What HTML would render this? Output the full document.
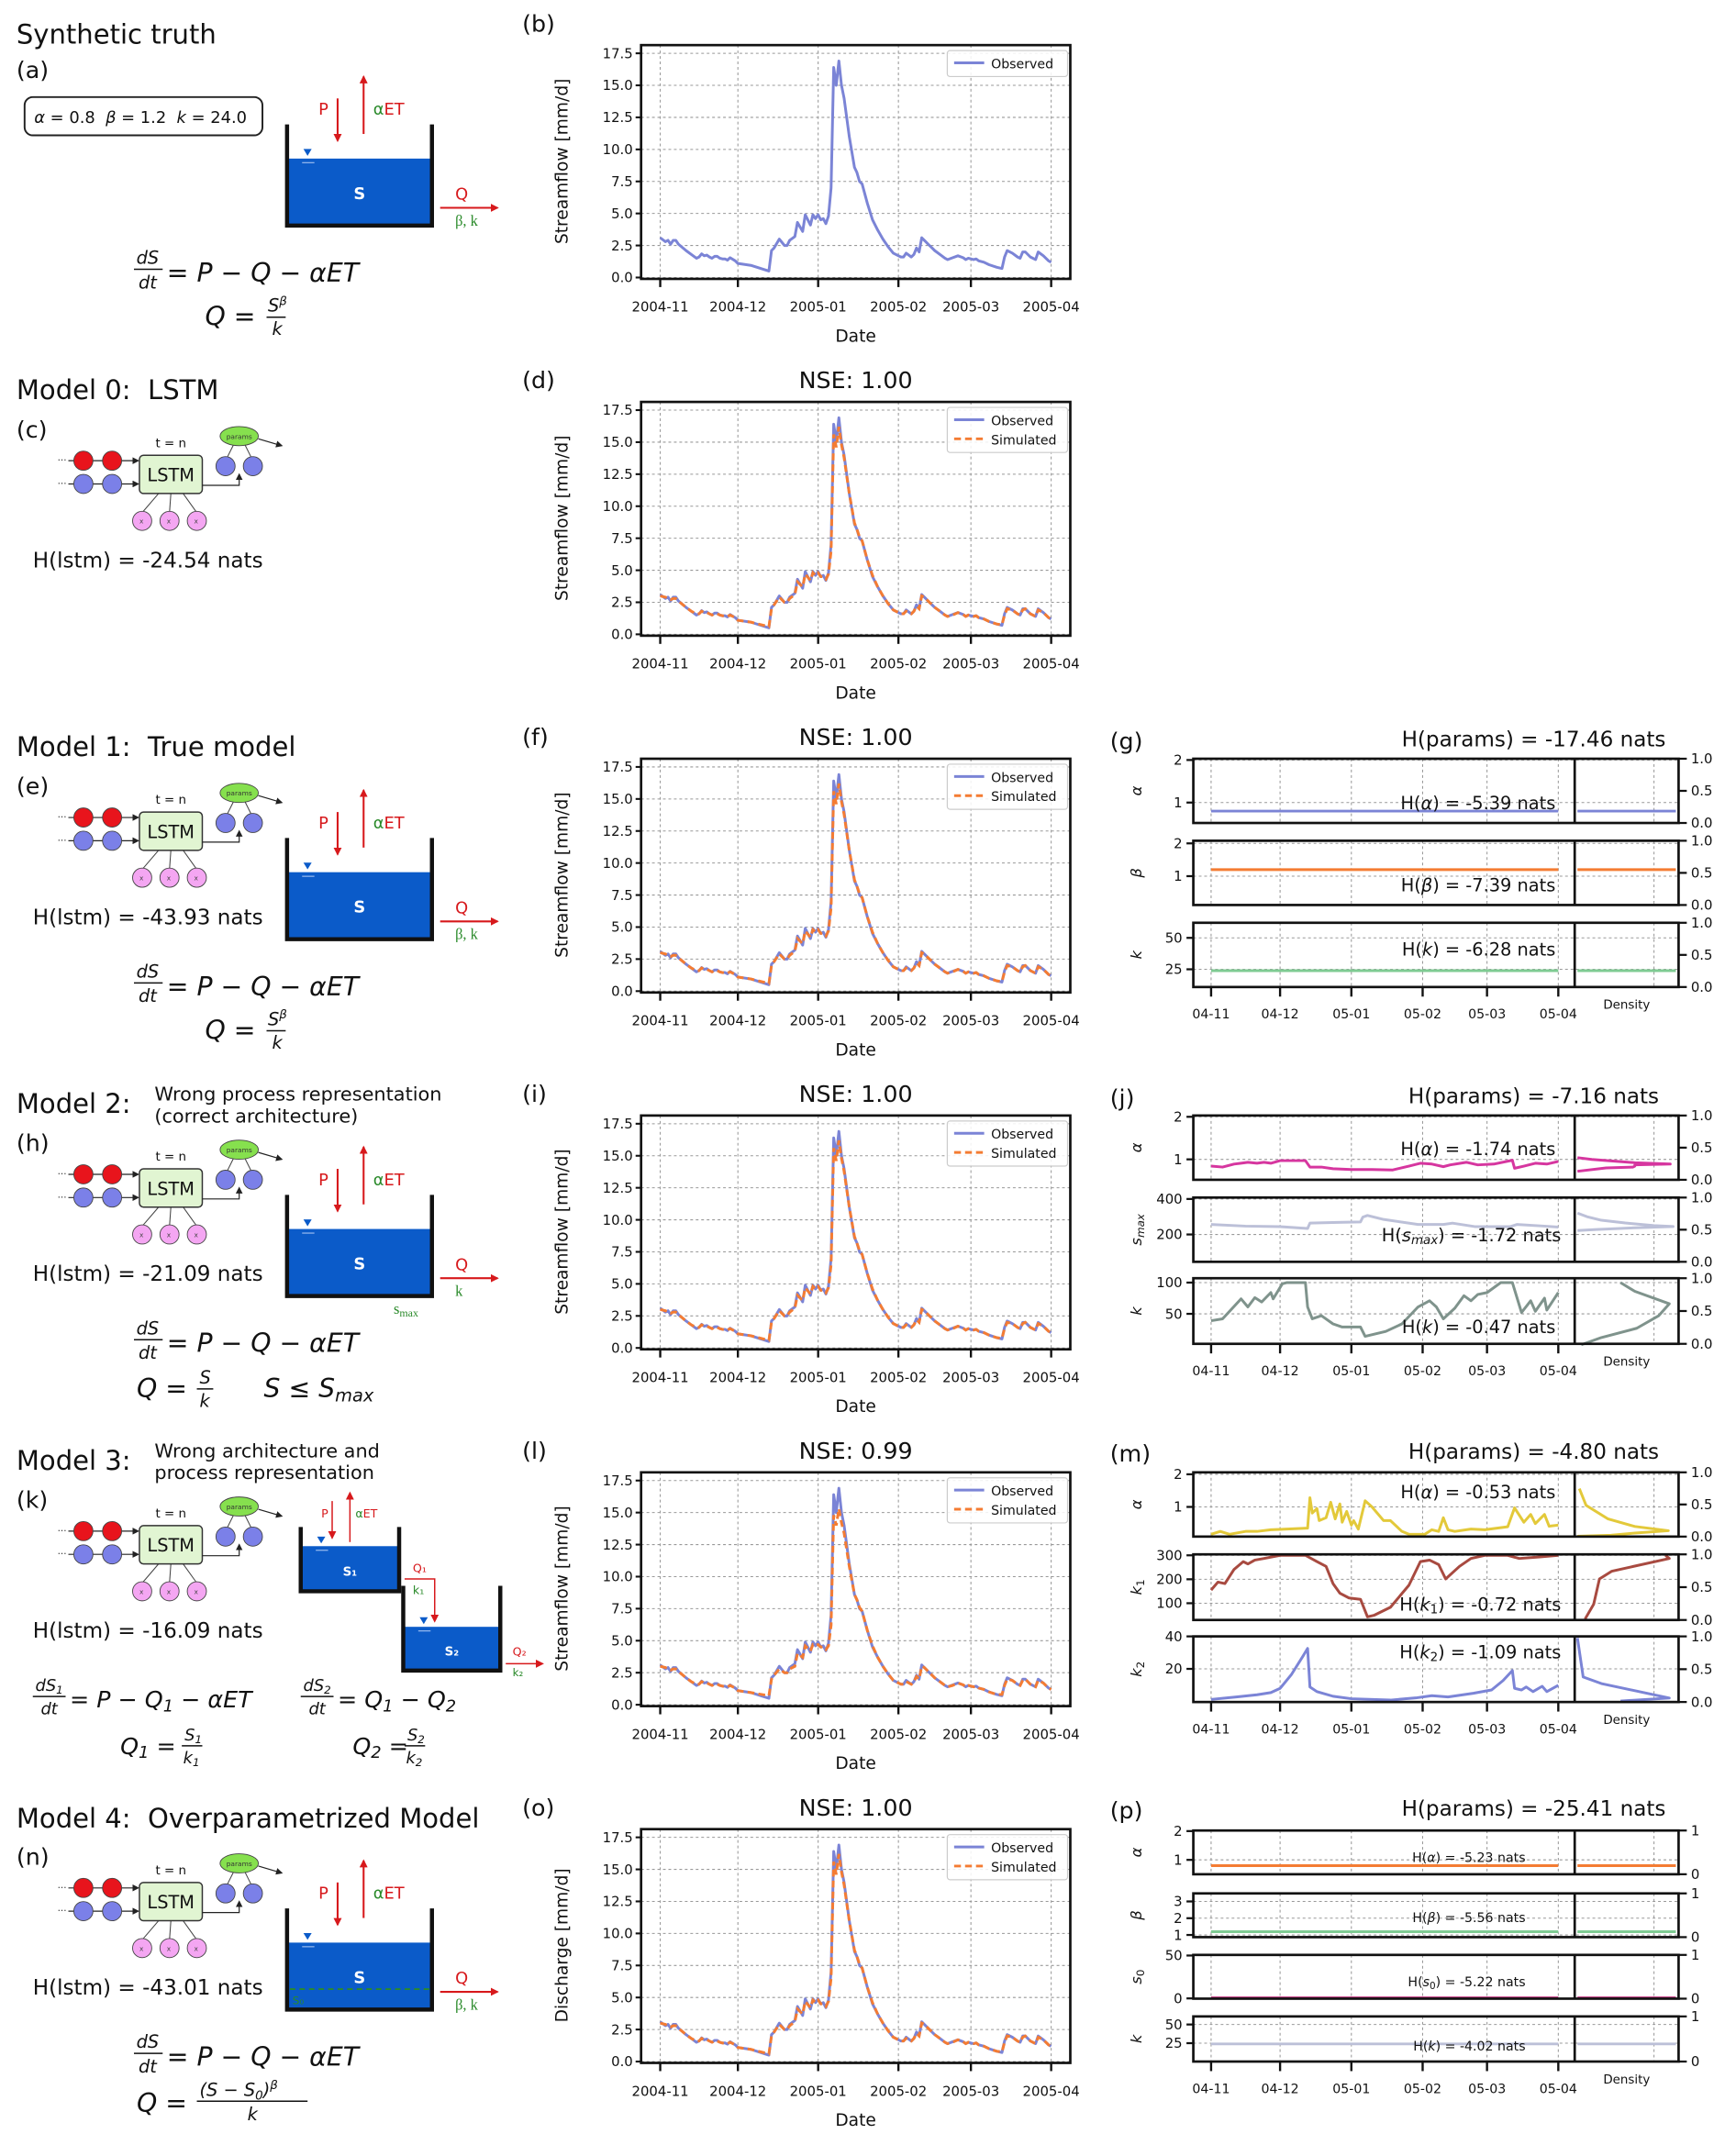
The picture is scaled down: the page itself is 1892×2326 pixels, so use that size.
<!DOCTYPE html>
<html><head><meta charset="utf-8"><style>
html,body{margin:0;padding:0;background:#fff;}
svg{display:block;font-family:"DejaVu Sans","Liberation Sans",sans-serif;}
.it{font-style:italic;}
</style></head><body>
<svg id="fig" xmlns="http://www.w3.org/2000/svg" width="1892" height="2326" viewBox="0 0 1270 1561" preserveAspectRatio="none">
<defs>
<marker id="ar" markerWidth="6" markerHeight="6" refX="5" refY="3" orient="auto" markerUnits="userSpaceOnUse"><path d="M0,0 L6,3 L0,6 z" fill="#d7191c"/></marker>
<marker id="ab" markerWidth="5" markerHeight="5" refX="4" refY="2.5" orient="auto" markerUnits="userSpaceOnUse"><path d="M0,0 L5,2.5 L0,5 z" fill="#222"/></marker>
</defs>

<g fill="#111">
<text x="12" y="32" font-size="19.5">Synthetic truth</text>
<text x="12" y="57" font-size="17">(a)</text>
<rect x="18" y="71" width="174" height="28" rx="6" fill="#fff" stroke="#222" stroke-width="1.3"/>
<text x="25" y="90" font-size="12"><tspan class="it">α</tspan> = 0.8&#160;&#160;<tspan class="it">β</tspan> = 1.2&#160;&#160;<tspan class="it">k</tspan> = 24.0</text>

<text x="12" y="292" font-size="19.5">Model 0:&#160;&#160;LSTM</text>
<text x="12" y="320" font-size="17">(c)</text>
<text x="24" y="415" font-size="15.5">H(lstm) = -24.54 nats</text>

<text x="12" y="553" font-size="19.5">Model 1:&#160;&#160;True model</text>
<text x="12" y="581" font-size="17">(e)</text>
<text x="24" y="676" font-size="15.5">H(lstm) = -43.93 nats</text>

<text x="12" y="814" font-size="19.5">Model 2:</text>
<text x="113" y="805" font-size="14">Wrong process representation</text>
<text x="113" y="821" font-size="14">(correct architecture)</text>
<text x="12" y="842" font-size="17">(h)</text>
<text x="24" y="937" font-size="15.5">H(lstm) = -21.09 nats</text>

<text x="12" y="1075" font-size="19.5">Model 3:</text>
<text x="113" y="1066" font-size="14">Wrong architecture and</text>
<text x="113" y="1082" font-size="14">process representation</text>
<text x="12" y="1103" font-size="17">(k)</text>
<text x="24" y="1198" font-size="15.5">H(lstm) = -16.09 nats</text>

<text x="12" y="1337" font-size="19.5">Model 4:&#160;&#160;Overparametrized Model</text>
<text x="12" y="1364" font-size="17">(n)</text>
<text x="24" y="1459" font-size="15.5">H(lstm) = -43.01 nats</text>
</g>

<g fill="#111">
<text x="108" y="193" font-size="13" text-anchor="middle" class="it">dS</text>
<line x1="98" y1="197" x2="119" y2="197" stroke="#111" stroke-width="1"/>
<text x="108" y="211" font-size="13" text-anchor="middle" class="it">dt</text>
<text x="122" y="206" font-size="19" class="it">= P − Q − αET</text>
<text x="150" y="238" font-size="19" class="it">Q =</text>
<text x="196" y="228" font-size="13" class="it">S<tspan font-size="9" dy="-5">β</tspan></text>
<line x1="195" y1="232" x2="209" y2="232" stroke="#111" stroke-width="1"/>
<text x="199" y="245" font-size="13" class="it">k</text>
</g>
<g fill="#111" transform="translate(0,522)">
<text x="108" y="193" font-size="13" text-anchor="middle" class="it">dS</text>
<line x1="98" y1="197" x2="119" y2="197" stroke="#111" stroke-width="1"/>
<text x="108" y="211" font-size="13" text-anchor="middle" class="it">dt</text>
<text x="122" y="206" font-size="19" class="it">= P − Q − αET</text>
<text x="150" y="238" font-size="19" class="it">Q =</text>
<text x="196" y="228" font-size="13" class="it">S<tspan font-size="9" dy="-5">β</tspan></text>
<line x1="195" y1="232" x2="209" y2="232" stroke="#111" stroke-width="1"/>
<text x="199" y="245" font-size="13" class="it">k</text>
</g>
<g fill="#111" transform="translate(0,783)">
<text x="108" y="193" font-size="13" text-anchor="middle" class="it">dS</text>
<line x1="98" y1="197" x2="119" y2="197" stroke="#111" stroke-width="1"/>
<text x="108" y="211" font-size="13" text-anchor="middle" class="it">dt</text>
<text x="122" y="206" font-size="19" class="it">= P − Q − αET</text>
<text x="100" y="239" font-size="19" class="it">Q =</text>
<text x="146" y="229" font-size="13" class="it">S</text>
<line x1="144" y1="233" x2="156" y2="233" stroke="#111" stroke-width="1"/>
<text x="146" y="246" font-size="13" class="it">k</text>
<text x="193" y="239" font-size="19" class="it">S ≤ S<tspan font-size="13" dy="3">max</tspan></text>
</g>
<g fill="#111">
<text x="36" y="1237" font-size="12" text-anchor="middle" class="it">dS<tspan font-size="8" dy="2">1</tspan></text>
<line x1="24" y1="1241" x2="48" y2="1241" stroke="#111" stroke-width="1"/>
<text x="36" y="1254" font-size="12" text-anchor="middle" class="it">dt</text>
<text x="51" y="1249" font-size="17" class="it">= P − Q<tspan font-size="12" dy="3">1</tspan><tspan dy="-3"> − αET</tspan></text>
<text x="88" y="1283" font-size="17" class="it">Q<tspan font-size="12" dy="3">1</tspan><tspan dy="-3"> =</tspan></text>
<text x="135" y="1273" font-size="12" class="it">S<tspan font-size="8" dy="2">1</tspan></text>
<line x1="133" y1="1277" x2="148" y2="1277" stroke="#111" stroke-width="1"/>
<text x="134" y="1290" font-size="12" class="it">k<tspan font-size="8" dy="2">1</tspan></text>
<text x="232" y="1237" font-size="12" text-anchor="middle" class="it">dS<tspan font-size="8" dy="2">2</tspan></text>
<line x1="220" y1="1241" x2="244" y2="1241" stroke="#111" stroke-width="1"/>
<text x="232" y="1254" font-size="12" text-anchor="middle" class="it">dt</text>
<text x="247" y="1249" font-size="17" class="it">= Q<tspan font-size="12" dy="3">1</tspan><tspan dy="-3"> − Q</tspan><tspan font-size="12" dy="3">2</tspan></text>
<text x="258" y="1283" font-size="17" class="it">Q<tspan font-size="12" dy="3">2</tspan><tspan dy="-3"> =</tspan></text>
<text x="298" y="1273" font-size="12" class="it">S<tspan font-size="8" dy="2">2</tspan></text>
<line x1="296" y1="1277" x2="311" y2="1277" stroke="#111" stroke-width="1"/>
<text x="297" y="1290" font-size="12" class="it">k<tspan font-size="8" dy="2">2</tspan></text>
</g>
<g fill="#111" transform="translate(0,1305)">
<text x="108" y="193" font-size="13" text-anchor="middle" class="it">dS</text>
<line x1="98" y1="197" x2="119" y2="197" stroke="#111" stroke-width="1"/>
<text x="108" y="211" font-size="13" text-anchor="middle" class="it">dt</text>
<text x="122" y="206" font-size="19" class="it">= P − Q − αET</text>
<text x="100" y="240" font-size="19" class="it">Q =</text>
<text x="146" y="228" font-size="13" class="it">(S − S<tspan font-size="9" dy="3">0</tspan><tspan dy="-3">)</tspan><tspan font-size="9" dy="-5">β</tspan></text>
<line x1="144" y1="232" x2="225" y2="232" stroke="#111" stroke-width="1"/>
<text x="181" y="246" font-size="13" class="it">k</text>
</g>

<g id="diagrams"></g>
<g id="charts"></g>
</svg>

<script>
// ---------- DATA ----------
const dayTicks = [0, 30, 61, 92, 120, 151];
const dateLabels = ["2004-11","2004-12","2005-01","2005-02","2005-03","2005-04"];
const shortLabels = ["04-11","04-12","05-01","05-02","05-03","05-04"];
const flowTicks = [0,2.5,5,7.5,10,12.5,15,17.5];
const flowTickLabels = ["0.0","2.5","5.0","7.5","10.0","12.5","15.0","17.5"];
const obsDays = [0,2,3,4,5,6,7,10,12,14, 15,16,17,18,19,20,21,22,23,24, 25,26,27,29,30,35,42,43,44,46, 48,49,50,52,53,55,56,58,59,60, 61,62,63,64,65,66,67,68,69,70, 71,73,75,76,77,78,80,82,84,86, 88,90,92,93,94,95,97,98,99,100, 101,102,104,106,108,110,111,113,115,117, 118,119,121,122,123,125,127,130,132,133, 134,136,138,139,140,141,143,145,146,148, 150,151];
const observed = [3.1,2.8,2.9,2.6,2.9,2.9,2.6,2.1,1.8,1.5, 1.6,1.85,1.7,1.75,1.6,1.5,1.65,1.65,1.5,1.45, 1.45,1.35,1.55,1.3,1.1,0.95,0.5,2.1,2.3,3.0, 2.5,2.5,2.9,3.2,4.3,3.6,4.9,4.1,4.9,4.6, 4.9,4.5,4.6,4.2,4.8,7.0,16.4,15.0,16.9,15.0, 14.0,11.0,8.6,8.2,7.5,7.3,5.8,4.5,3.7,3.0, 2.4,1.9,1.7,1.6,1.6,1.9,1.6,1.8,2.3,2.0, 3.1,2.9,2.5,2.1,1.8,1.5,1.4,1.55,1.7,1.55, 1.4,1.5,1.4,1.45,1.3,1.2,1.0,0.8,0.7,1.6, 2.1,1.9,1.6,1.5,2.0,2.0,1.6,1.4,2.0,1.7, 1.3,1.2];
const simulated = [3.0,2.9,2.8,2.7,2.8,2.8,2.6,2.1,1.8,1.6, 1.6,1.8,1.7,1.7,1.6,1.5,1.6,1.6,1.5,1.45, 1.4,1.4,1.5,1.3,1.1,0.95,0.6,2.0,2.3,2.9, 2.5,2.5,2.8,3.1,4.1,3.7,4.7,4.2,4.8,4.6, 4.8,4.5,4.5,4.3,4.7,6.5,15.6,14.6,16.2,14.8, 13.8,11.0,8.7,8.2,7.6,7.3,5.8,4.6,3.7,3.0, 2.4,1.9,1.7,1.6,1.6,1.8,1.6,1.8,2.2,2.0, 3.0,2.9,2.5,2.1,1.8,1.5,1.4,1.5,1.7,1.55, 1.4,1.5,1.4,1.45,1.3,1.2,1.0,0.8,0.75,1.5, 2.0,1.9,1.6,1.5,1.9,2.0,1.6,1.4,1.9,1.7, 1.3,1.2];
const simulatedM3 = [3.0,2.9,2.8,2.7,2.8,2.8,2.6,2.1,1.8,1.6, 1.6,1.8,1.7,1.7,1.6,1.5,1.6,1.6,1.5,1.45, 1.4,1.4,1.5,1.3,1.1,0.95,0.7,2.0,2.3,2.8, 2.5,2.5,2.8,3.0,4.0,3.7,4.6,4.2,4.7,4.6, 4.7,4.5,4.5,4.3,4.6,6.2,14.8,14.0,15.3,14.2, 13.4,10.8,8.6,8.2,7.6,7.3,5.8,4.6,3.7,3.0, 2.4,1.9,1.7,1.6,1.6,1.8,1.6,1.8,2.2,2.0, 3.0,2.9,2.5,2.1,1.8,1.5,1.4,1.5,1.7,1.55, 1.4,1.5,1.4,1.45,1.3,1.2,1.0,0.8,0.8,1.5, 2.0,1.9,1.6,1.5,1.9,2.0,1.6,1.4,1.9,1.7, 1.3,1.2];

const constDays = [0,151];
const g_alpha = [0.8,0.8];
const g_beta = [1.2,1.2];
const g_k = [24,24];
const j_alphaDays = [0,5,10,13,16,20,23,26,30,41,43,48,53,61,70,79,86,91,96,101,104,111,116,123,131,132,136,141,146,151];
const j_alpha = [0.84,0.82,0.89,0.91,0.93,0.91,0.93,0.91,0.97,0.97,0.82,0.82,0.78,0.76,0.76,0.75,0.84,0.91,0.89,0.83,0.87,0.93,0.87,0.89,0.98,0.79,0.84,0.91,0.89,0.95];
const j_smaxDays = [0,15,30,42,43,55,65,66,68,75,90,101,105,115,130,133,145,151];
const j_smax = [256,247,244,234,264,268,271,298,307,285,256,256,264,244,244,256,247,242];
const j_kDays = [0,5,13,16,19,22,26,27,31,33,41,42,44,48,53,57,65,67,76,83,90,95,98,101,106,110,113,116,120,126,131,135,139,141,145,146,151];
const j_k = [39,42,74,61,76,69,84,74,98,100,100,61,42,47,34,29,29,14,22,34,61,71,61,42,59,79,71,81,84,100,100,52,71,54,75,56,84];
const m_alphaDays = [0,4,8,15,20,26,33,42,43,44,46,47,50,52,54,56,57,59,61,62,64,67,70,75,78,83,86,93,96,99,101,103,106,113,119,129,132,136,139,141,145,147,151];
const m_alpha = [0.16,0.25,0.16,0.25,0.25,0.3,0.32,0.35,1.28,0.81,0.95,0.58,0.67,1.14,0.63,1.09,0.53,0.86,0.44,0.58,0.32,1.19,1.0,0.58,0.58,0.25,0.16,0.16,0.3,0.25,0.67,0.3,0.25,0.32,0.3,0.39,0.97,0.53,0.77,0.49,0.77,0.41,0.44];
const m_k1Days = [0,3,6,10,14,16,19,23,30,41,46,50,53,56,60,65,68,71,78,86,91,95,99,102,108,113,119,129,134,143,151];
const m_k1 = [155,188,182,241,274,264,280,287,300,300,274,254,182,142,122,116,43,50,83,175,274,280,261,201,254,287,300,300,287,293,300];
const m_k2Days = [0,11,20,26,30,35,40,42,43,46,53,61,78,89,96,103,114,122,127,131,132,135,137,140,144,146,151];
const m_k2 = [1.2,2.7,4.1,5.4,8,16.7,28,32.6,8.9,6,3.1,1.6,0.8,2.1,3.5,2.7,5,7,12.8,19,8,7,8.9,6,9.3,6,9.9];
const p_alpha = [0.8,0.8];
const p_beta = [1.2,1.2];
const p_s0 = [0.6,0.6];
const p_k = [24,24];

const j_alphaDensVal = [1.04,1.0,0.92,0.89,0.87,0.84,0.82,0.8,0.72];
const j_alphaDens = [0.0,0.15,0.6,0.97,0.6,0.6,0.58,0.3,0.0];
const j_smaxDensVal = [320,300,280,265,250,245,238,228,222];
const j_smaxDens = [0,0.1,0.25,0.5,0.8,1.0,0.6,0.2,0];
const j_kDensVal = [100,86,66,47,27,12,0.5];
const j_kDens = [0.45,0.6,0.96,0.85,0.62,0.25,0.04];
const m_alphaDensVal = [1.56,1.05,0.63,0.4,0.27,0.2,0.13,0.1];
const m_alphaDens = [0.02,0.09,0.32,0.6,0.95,0.6,0.35,0.0];
const m_k1DensVal = [34,96,201,234,287,300];
const m_k1Dens = [0.08,0.17,0.23,0.36,0.96,0.92];
const m_k2DensVal = [39,15,11,2,0.2];
const m_k2Dens = [0.0,0.06,0.25,0.96,0.45];

// ---------- HELPERS ----------
const NS = "http://www.w3.org/2000/svg";
function mk(tag, attrs, parent){
  const el = document.createElementNS(NS, tag);
  for (const k in attrs) el.setAttribute(k, attrs[k]);
  parent.appendChild(el);
  return el;
}
function txt(str, attrs, parent){
  const t = mk("text", attrs, parent);
  t.textContent = str;
  return t;
}
const charts = document.getElementById("charts");
const diagrams = document.getElementById("diagrams");
const OBS = "#7b84d6", SIM = "#f47c33";

const tsX = d => 483 + d * 286 / 151;
function tsPanel(y0, label, title, ylab, simArr, labelName){
  const g = mk("g", {}, charts);
  
  
  const yv = v => y0 - v * 164 / 17.5;
  const top = y0 - 170, bot = y0 + 1, L = 469, R = 783;
  for (let i = 0; i < flowTicks.length; i++){
    const gl = mk("line", {x1:L, x2:R, y1:yv(flowTicks[i]), y2:yv(flowTicks[i]), stroke:"#999", "stroke-width":0.7, "stroke-dasharray":"2,2"}, g);
    
    
    const tk = mk("line", {x1:L-4, x2:L, y1:yv(flowTicks[i]), y2:yv(flowTicks[i]), stroke:"#111", "stroke-width":1.4}, g);
    
    
    const tl = txt(flowTickLabels[i], {x:L-6, y:yv(flowTicks[i])+3.5, "font-size":10, "text-anchor":"end", fill:"#111"}, g);
    
    
  }
  for (let i = 0; i < dayTicks.length; i++){
    const x = tsX(dayTicks[i]);
    const gl = mk("line", {x1:x, x2:x, y1:top, y2:bot, stroke:"#999", "stroke-width":0.7, "stroke-dasharray":"2,2"}, g);
    
    
    const tk = mk("line", {x1:x, x2:x, y1:bot, y2:bot+6, stroke:"#111", "stroke-width":1.6}, g);
    
    
    const tl = txt(dateLabels[i], {x:x, y:y0+25, "font-size":10, "text-anchor":"middle", fill:"#111"}, g);
    
    
  }
  const ptsObs = obsDays.map((d,i) => tsX(d).toFixed(1) + "," + yv(observed[i]).toFixed(1)).join(" ");
  const lo = mk("polyline", {points:ptsObs, fill:"none", stroke:OBS, "stroke-width":2, "stroke-linejoin":"round"}, g);
  
  
  if (simArr){
    const ptsSim = obsDays.map((d,i) => tsX(d).toFixed(1) + "," + yv(simArr[i]).toFixed(1)).join(" ");
    const ls = mk("polyline", {points:ptsSim, fill:"none", stroke:SIM, "stroke-width":2, "stroke-dasharray":"5,3"}, g);
    
    
  }
  const fr = mk("rect", {x:L, y:top, width:R-L, height:bot-top, fill:"none", stroke:"#111", "stroke-width":1.8}, g);
  
  
  const lg = mk("g", {}, g);
  
  
  mk("rect", {x:693, y:y0-166, width:88, height: simArr ? 33 : 19, rx:2, fill:"#fff", "fill-opacity":0.85, stroke:"#ccc", "stroke-width":0.8}, lg);
  mk("line", {x1:698, x2:720, y1:y0-157, y2:y0-157, stroke:OBS, "stroke-width":2}, lg);
  const le1 = txt("Observed", {x:725, y:y0-153, "font-size":9.5, fill:"#111"}, lg);
  
  
  if (simArr){
    mk("line", {x1:698, x2:720, y1:y0-143, y2:y0-143, stroke:SIM, "stroke-width":2, "stroke-dasharray":"5,3"}, lg);
    const le2 = txt("Simulated", {x:725, y:y0-139, "font-size":9.5, fill:"#111"}, lg);
    
    
  }
  const xl = txt("Date", {x:626, y:y0+47, "font-size":12.5, "text-anchor":"middle", fill:"#111"}, g);
  
  
  const yl = txt(ylab, {x:0, y:0, "font-size":12.5, "text-anchor":"middle", fill:"#111", transform:"translate(415," + (y0-85) + ") rotate(-90)"}, g);
  
  
  const pl = txt(label, {x:382, y:y0-180, "font-size":17, fill:"#111"}, g);
  
  
  if (title){
    const tt = txt(title, {x:626, y:y0-180, "font-size":17, "text-anchor":"middle", fill:"#111"}, g);
    
    
  }
}
tsPanel(203, "(b)", null, "Streamflow [mm/d]", null, "b");
tsPanel(464, "(d)", "NSE: 1.00", "Streamflow [mm/d]", simulated, "d");
tsPanel(725, "(f)", "NSE: 1.00", "Streamflow [mm/d]", simulated, "f");
tsPanel(986, "(i)", "NSE: 1.00", "Streamflow [mm/d]", simulated, "i");
tsPanel(1247, "(l)", "NSE: 0.99", "Streamflow [mm/d]", simulatedM3, "l");
tsPanel(1508, "(o)", "NSE: 1.00", "Discharge [mm/d]", simulated, "o");

const pX = d => 886 + d * 254 / 151;
const DL = 1152, DR = 1228, PL = 873;
function paramPanel(cfg){
  const g = mk("g", {}, charts);
  
  
  const pl = txt(cfg.label, {x:812, y:cfg.titleY+8, "font-size":17, fill:"#111"}, g);
  
  
  const tt = txt(cfg.title, {x:1122, y:cfg.titleY+6, "font-size":15.5, "text-anchor":"middle", fill:"#111"}, g);
  
  
  cfg.subs.forEach(s => {
    const sg = mk("g", {}, g);
    
    
    const yv = v => s.bot - (v - s.lo) * (s.bot - s.top) / (s.hi - s.lo);
    dayTicks.forEach(d => {
      const gl = mk("line", {x1:pX(d), x2:pX(d), y1:s.top, y2:s.bot, stroke:"#999", "stroke-width":0.7, "stroke-dasharray":"2,2"}, sg);
      
      
    });
    const dg = mk("line", {x1:1210, x2:1210, y1:s.top, y2:s.bot, stroke:"#999", "stroke-width":0.7, "stroke-dasharray":"2,2"}, sg);
    
    
    s.ticks.forEach((t,i) => {
      const y = yv(t);
      const gl = mk("line", {x1:PL, x2:DR, y1:y, y2:y, stroke:"#999", "stroke-width":0.7, "stroke-dasharray":"2,2"}, sg);
      
      
      const tk = mk("line", {x1:PL-5, x2:PL, y1:y, y2:y, stroke:"#111", "stroke-width":1.5}, sg);
      
      
      const tl = txt(s.tickLabels[i], {x:PL-8, y:y+3.5, "font-size":10, "text-anchor":"end", fill:"#111"}, sg);
      
      
    });
    cfg.rightTicks.forEach((t,i) => {
      const y = s.bot - t * (s.bot - s.top);
      const tk = mk("line", {x1:DR, x2:DR+6, y1:y, y2:y, stroke:"#111", "stroke-width":1.5}, sg);
      
      
      const tl = txt(cfg.rightLabels[i], {x:DR+9, y:y+3.5, "font-size":10, fill:"#111"}, sg);
      
      
    });
    const pts = s.days.map((d,i) => pX(d).toFixed(1) + "," + yv(s.vals[i]).toFixed(1)).join(" ");
    const ln = mk("polyline", {points:pts, fill:"none", stroke:s.color, "stroke-width":2, "stroke-linejoin":"round"}, sg);
    
    
    let dpts;
    if (s.densVal){
      dpts = s.densVal.map((v,i) => (DL + 2 + s.dens[i] * (DR - DL - 6)).toFixed(1) + "," + yv(v).toFixed(1)).join(" ");
    } else {
      dpts = (DL+2) + "," + yv(s.vals[0]).toFixed(1) + " " + (DR-2) + "," + yv(s.vals[0]).toFixed(1);
    }
    const dl = mk("polyline", {points:dpts, fill:"none", stroke:s.color, "stroke-width":2, "stroke-linejoin":"round"}, sg);
    
    
    const fr = mk("rect", {x:PL, y:s.top, width:DR-PL, height:s.bot-s.top, fill:"none", stroke:"#111", "stroke-width":1.8}, sg);
    
    
    const dv = mk("line", {x1:DL, x2:DL, y1:s.top, y2:s.bot, stroke:"#111", "stroke-width":1.8}, sg);
    
    
    const yl = mk("text", {x:0, y:0, "font-size":11, "text-anchor":"middle", fill:"#111", transform:"translate(835," + ((s.top+s.bot)/2) + ") rotate(-90)"}, sg);
    yl.innerHTML = s.ylabel;
    
    
    const ht = mk("text", {x:s.hx, y:s.hy, "font-size":cfg.hSize, "text-anchor":"end", fill:"#111"}, sg);
    ht.innerHTML = s.htext;
    
    
  });
  const last = cfg.subs[cfg.subs.length-1];
  dayTicks.forEach((d,i) => {
    const tk = mk("line", {x1:pX(d), x2:pX(d), y1:last.bot, y2:last.bot+7, stroke:"#111", "stroke-width":1.6}, g);
    
    
    const tl = txt(shortLabels[i], {x:pX(d), y:last.bot+23, "font-size":9.5, "text-anchor":"middle", fill:"#111"}, g);
    
    
  });
  const dlab = txt("Density", {x:1190, y:last.bot+16, "font-size":9, "text-anchor":"middle", fill:"#111"}, g);
  
  
}
const R3 = [1,0.5,0], R3L = ["1.0","0.5","0.0"];
paramPanel({name:"g", label:"(g)", title:"H(params) = -17.46 nats", titleY:540, hSize:13, rightTicks:R3, rightLabels:R3L, subs:[
  {id:"alpha", top:555, bot:602, lo:0.52, hi:2.03, ticks:[1,2], tickLabels:["1","2"], color:"#7b84d6", days:constDays, vals:g_alpha, ylabel:'<tspan font-style="italic">α</tspan>', htext:'H(<tspan font-style="italic">α</tspan>) = -5.39 nats', hx:1138, hy:592},
  {id:"beta", top:615, bot:662, lo:0.12, hi:2.08, ticks:[1,2], tickLabels:["1","2"], color:"#f47c33", days:constDays, vals:g_beta, ylabel:'<tspan font-style="italic">β</tspan>', htext:'H(<tspan font-style="italic">β</tspan>) = -7.39 nats', hx:1138, hy:652},
  {id:"k", top:675, bot:722, lo:10.9, hi:62, ticks:[25,50], tickLabels:["25","50"], color:"#7fcb93", days:constDays, vals:g_k, ylabel:'<tspan font-style="italic">k</tspan>', htext:'H(<tspan font-style="italic">k</tspan>) = -6.28 nats', hx:1138, hy:699}
]});
paramPanel({name:"j", label:"(j)", title:"H(params) = -7.16 nats", titleY:801, hSize:13, rightTicks:R3, rightLabels:R3L, subs:[
  {id:"alpha", top:816, bot:863, lo:0.52, hi:2.03, ticks:[1,2], tickLabels:["1","2"], color:"#d6369f", days:j_alphaDays, vals:j_alpha, densVal:j_alphaDensVal, dens:j_alphaDens, ylabel:'<tspan font-style="italic">α</tspan>', htext:'H(<tspan font-style="italic">α</tspan>) = -1.74 nats', hx:1138, hy:845},
  {id:"smax", top:876, bot:923, lo:46, hi:408, ticks:[200,400], tickLabels:["200","400"], color:"#bcc0d8", days:j_smaxDays, vals:j_smax, densVal:j_smaxDensVal, dens:j_smaxDens, ylabel:'<tspan font-style="italic">s</tspan><tspan font-size="8" dy="2" font-style="italic">max</tspan>', htext:'H(<tspan font-style="italic">s</tspan><tspan font-size="9" dy="2" font-style="italic">max</tspan><tspan dy="-2">) = -1.72 nats</tspan>', hx:1142, hy:908},
  {id:"k", top:935, bot:983, lo:2, hi:107, ticks:[50,100], tickLabels:["50","100"], color:"#7f938c", days:j_kDays, vals:j_k, densVal:j_kDensVal, dens:j_kDens, ylabel:'<tspan font-style="italic">k</tspan>', htext:'H(<tspan font-style="italic">k</tspan>) = -0.47 nats', hx:1138, hy:975}
]});
paramPanel({name:"m", label:"(m)", title:"H(params) = -4.80 nats", titleY:1061, hSize:13, rightTicks:R3, rightLabels:R3L, subs:[
  {id:"alpha", top:1077, bot:1124, lo:0.09, hi:2.06, ticks:[1,2], tickLabels:["1","2"], color:"#e3c93a", days:m_alphaDays, vals:m_alpha, densVal:m_alphaDensVal, dens:m_alphaDens, ylabel:'<tspan font-style="italic">α</tspan>', htext:'H(<tspan font-style="italic">α</tspan>) = -0.53 nats', hx:1138, hy:1096},
  {id:"k1", top:1137, bot:1185, lo:30, hi:304, ticks:[100,200,300], tickLabels:["100","200","300"], color:"#a84a40", days:m_k1Days, vals:m_k1, densVal:m_k1DensVal, dens:m_k1Dens, ylabel:'<tspan font-style="italic">k</tspan><tspan font-size="8" dy="2">1</tspan>', htext:'H(<tspan font-style="italic">k</tspan><tspan font-size="9" dy="2">1</tspan><tspan dy="-2">) = -0.72 nats</tspan>', hx:1142, hy:1178},
  {id:"k2", top:1197, bot:1245, lo:-0.4, hi:40, ticks:[20,40], tickLabels:["20","40"], color:"#7b84d6", days:m_k2Days, vals:m_k2, densVal:m_k2DensVal, dens:m_k2Dens, ylabel:'<tspan font-style="italic">k</tspan><tspan font-size="8" dy="2">2</tspan>', htext:'H(<tspan font-style="italic">k</tspan><tspan font-size="9" dy="2">2</tspan><tspan dy="-2">) = -1.09 nats</tspan>', hx:1142, hy:1213}
]});
paramPanel({name:"p", label:"(p)", title:"H(params) = -25.41 nats", titleY:1322, hSize:9.5, rightTicks:[1,0], rightLabels:["1","0"], subs:[
  {id:"alpha", top:1339, bot:1371, lo:0.5, hi:2.02, ticks:[1,2], tickLabels:["1","2"], color:"#f47c33", days:constDays, vals:p_alpha, ylabel:'<tspan font-style="italic">α</tspan>', htext:'H(<tspan font-style="italic">α</tspan>) = -5.23 nats', hx:1116, hy:1362},
  {id:"beta", top:1385, bot:1417, lo:0.87, hi:3.48, ticks:[1,2,3], tickLabels:["1","2","3"], color:"#7fcb93", days:constDays, vals:p_beta, ylabel:'<tspan font-style="italic">β</tspan>', htext:'H(<tspan font-style="italic">β</tspan>) = -5.56 nats', hx:1116, hy:1406},
  {id:"s0", top:1430, bot:1462, lo:-0.3, hi:50.7, ticks:[0,50], tickLabels:["0","50"], color:"#c2307e", days:constDays, vals:p_s0, ylabel:'<tspan font-style="italic">s</tspan><tspan font-size="8" dy="2">0</tspan>', htext:'H(<tspan font-style="italic">s</tspan><tspan font-size="7" dy="2">0</tspan><tspan dy="-2">) = -5.22 nats</tspan>', hx:1116, hy:1453},
  {id:"k", top:1475, bot:1508, lo:0.4, hi:60.8, ticks:[25,50], tickLabels:["25","50"], color:"#bcc0d8", days:constDays, vals:p_k, ylabel:'<tspan font-style="italic">k</tspan>', htext:'H(<tspan font-style="italic">k</tspan>) = -4.02 nats', hx:1116, hy:1500}
]});

function lstm(ox, oy, id){
  const g = mk("g", {transform:"translate(" + ox + "," + oy + ")"}, diagrams);
  
  
  mk("line", {x1:-52, x2:-1, y1:4, y2:4, stroke:"#222", "stroke-width":0.8, "marker-end":"url(#ab)"}, g);
  mk("line", {x1:-52, x2:-1, y1:21, y2:21, stroke:"#222", "stroke-width":0.8, "marker-end":"url(#ab)"}, g);
  txt("···", {x:-60, y:6, "font-size":7, fill:"#333"}, g);
  txt("···", {x:-60, y:23, "font-size":7, fill:"#333"}, g);
  [-41,-20].forEach(cx => {
    mk("circle", {cx:cx, cy:4, r:7, fill:"#e8141c", stroke:"#444", "stroke-width":0.6}, g);
    mk("circle", {cx:cx, cy:21, r:7, fill:"#7b80e8", stroke:"#444", "stroke-width":0.6}, g);
  });
  [2,22,42].forEach((cx,i) => {
    mk("line", {x1:[14,23,32][i], y1:28, x2:cx, y2:42, stroke:"#444", "stroke-width":0.7}, g);
    mk("circle", {cx:cx, cy:48, r:7, fill:"#f4a6f2", stroke:"#444", "stroke-width":0.6}, g);
    txt("x", {x:cx-2, y:50, "font-size":5, fill:"#444"}, g);
  });
  const box = mk("rect", {x:0, y:0, width:46, height:28, rx:3, fill:"#e1f5d2", stroke:"#333", "stroke-width":1}, g);
  
  
  txt("LSTM", {x:23, y:19, "font-size":13, "text-anchor":"middle", fill:"#111"}, g);
  txt("t = n", {x:23, y:-6, "font-size":9, "text-anchor":"middle", fill:"#111"}, g);
  mk("polyline", {points:"46,22 73,22 73,14", fill:"none", stroke:"#222", "stroke-width":0.8, "marker-end":"url(#ab)"}, g);
  mk("line", {x1:70, y1:-10, x2:64, y2:2, stroke:"#444", "stroke-width":0.7}, g);
  mk("line", {x1:76, y1:-10, x2:82, y2:2, stroke:"#444", "stroke-width":0.7}, g);
  mk("circle", {cx:63, cy:8, r:7, fill:"#7b80e8", stroke:"#444", "stroke-width":0.6}, g);
  mk("circle", {cx:83, cy:8, r:7, fill:"#7b80e8", stroke:"#444", "stroke-width":0.6}, g);
  mk("ellipse", {cx:73, cy:-14, rx:14, ry:7, fill:"#86e04e", stroke:"#444", "stroke-width":0.6}, g);
  txt("params", {x:73, y:-12, "font-size":5, "text-anchor":"middle", fill:"#333"}, g);
  mk("line", {x1:87, y1:-12, x2:104, y2:-7, stroke:"#222", "stroke-width":0.8, "marker-end":"url(#ab)"}, g);
}
[333,594,855,1116,1377].forEach((y,i) => lstm(102, y, "m" + i));

function tank(x1, x2, top, bot, water, sLabel, id, fs){
  const g = mk("g", {}, diagrams);
  
  
  mk("rect", {x:x1, y:water, width:x2-x1, height:bot-water, fill:"#0b5bc9"}, g);
  mk("polyline", {points:x1+","+top+" "+x1+","+bot+" "+x2+","+bot+" "+x2+","+top, fill:"none", stroke:"#111", "stroke-width":3}, g);
  mk("path", {d:"M"+(x1+12)+","+(water-7)+" l6,0 l-3,5 z", fill:"#0b5bc9"}, g);
  mk("line", {x1:x1+11, x2:x1+20, y1:water+3, y2:water+3, stroke:"#9bbcf0", "stroke-width":0.8}, g);
  txt(sLabel, {x:(x1+x2)/2, y:(water+bot)/2+5, "font-size":fs, "font-weight":"bold", "text-anchor":"middle", fill:"#fff"}, g);
  return g;
}
function simpleTank(off, qLabel, id){
  const g = tank(210, 316, 91+off, 165+off, 116+off, "S", id, 12);
  mk("line", {x1:247, x2:247, y1:72+off, y2:103+off, stroke:"#d7191c", "stroke-width":1.4, "marker-end":"url(#ar)"}, g);
  mk("line", {x1:266, x2:266, y1:98+off, y2:56+off, stroke:"#d7191c", "stroke-width":1.4, "marker-end":"url(#ar)"}, g);
  txt("P", {x:233, y:84+off, "font-size":12, fill:"#d7191c"}, g);
  const t = mk("text", {x:273, y:84+off, "font-size":12, fill:"#d7191c"}, g);
  t.innerHTML = '<tspan fill="#2a8a2a">α</tspan>ET';
  mk("line", {x1:322, x2:364, y1:152+off, y2:152+off, stroke:"#d7191c", "stroke-width":1.4, "marker-end":"url(#ar)"}, g);
  txt("Q", {x:333, y:146+off, "font-size":12, fill:"#d7191c"}, g);
  txt(qLabel, {x:333, y:165+off, "font-size":11, fill:"#2a8a2a", "font-family":"Liberation Serif, serif"}, g);
  return g;
}
simpleTank(0, "β, k", "a");
simpleTank(522, "β, k", "model1");
const t2 = simpleTank(783, "k", "model2");
const sm = mk("text", {x:288, y:961, "font-size":11, fill:"#2a8a2a", "font-family":"Liberation Serif, serif"}, t2);
sm.innerHTML = 's<tspan font-size="8" dy="2">max</tspan>';
const t4 = simpleTank(1305, "β, k", "model4");
mk("line", {x1:212, x2:314, y1:1455, y2:1455, stroke:"#2a8a2a", "stroke-width":1.3, "stroke-dasharray":"4,3"}, t4);
txt("S₀", {x:214, y:1466, "font-size":8, fill:"#2a8a2a"}, t4);

const tk1 = tank(220, 292, 1117, 1164, 1131, "S₁", "model3-s1", 9);
mk("line", {x1:243, x2:243, y1:1098, y2:1125, stroke:"#d7191c", "stroke-width":1, "marker-end":"url(#ar)"}, tk1);
mk("line", {x1:256, x2:256, y1:1128, y2:1092, stroke:"#d7191c", "stroke-width":1, "marker-end":"url(#ar)"}, tk1);
txt("P", {x:235, y:1110, "font-size":8.5, fill:"#d7191c"}, tk1);
const a3 = mk("text", {x:260, y:1110, "font-size":8.5, fill:"#d7191c"}, tk1);
a3.innerHTML = '<tspan fill="#2a8a2a">α</tspan>ET';
mk("polyline", {points:"296,1155 318,1155 318,1186", fill:"none", stroke:"#d7191c", "stroke-width":1, "marker-end":"url(#ar)"}, tk1);
txt("Q₁", {x:302, y:1150, "font-size":8.5, fill:"#d7191c"}, tk1);
txt("k₁", {x:302, y:1166, "font-size":8.5, fill:"#2a8a2a"}, tk1);
const tk2 = tank(295, 366, 1160, 1222, 1190, "S₂", "model3-s2", 9);
mk("line", {x1:370, x2:397, y1:1217, y2:1217, stroke:"#d7191c", "stroke-width":1, "marker-end":"url(#ar)"}, tk2);
txt("Q₂", {x:375, y:1211, "font-size":8.5, fill:"#d7191c"}, tk2);
txt("k₂", {x:375, y:1226, "font-size":8, fill:"#2a8a2a"}, tk2);
</script>
</body></html>
